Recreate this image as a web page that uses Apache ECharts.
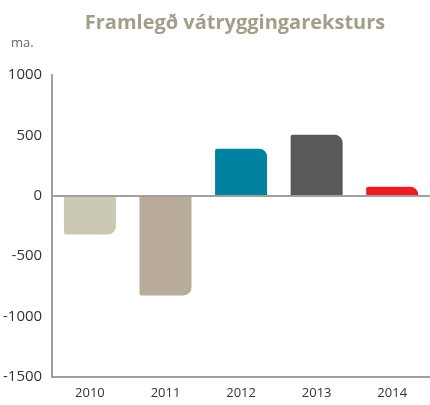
<!DOCTYPE html>
<html>
<head>
<meta charset="utf-8">
<script src="https://cdn.jsdelivr.net/npm/echarts@6/dist/echarts.min.js"></script>
<style>
  html, body { margin: 0; padding: 0; background: #fff; }
  #chart { width: 430px; height: 405px; }
</style>
</head>
<body>
<div id="chart"></div>
<script>
// Gögn
var years = ["2010", "2011", "2012", "2013", "2014"];
var values = [-320, -825, 390, 505, 75];
var barColors = ["#CBC9B3", "#B8AB9A", "#0082A0", "#58595B", "#ED1C24"];
var yTicks = [-1500, -1000, -500, 0, 500, 1000];

var chart = echarts.init(document.getElementById("chart"));

var barData = values.map(function (v, i) {
  return {
    value: v,
    itemStyle: {
      color: barColors[i],
      // hornin rúnuð á endanum sem snýr frá núlli
      borderRadius: v >= 0 ? [2, 8, 0, 0] : [0, 0, 8, 2],
    },
  };
});

var option = {
  animation: false,
  title: {
    text: "Framlegð vátryggingareksturs",
    left: 230,
    textAlign: "center",
    top: 8,
    textStyle: {
      fontFamily: "Open Sans",
      fontWeight: "bold",
      fontSize: 20,
      color: "#A29E88",
    },
  },
  graphic: [
    {
      type: "text",
      left: 11,
      top: 37,
      style: {
        text: "ma.",
        font: "13px 'Open Sans'",
        fill: "#666",
      },
    },
  ],
  grid: {
    left: 52,
    right: 0,
    top: 75,
    bottom: 28,
    containLabel: false,
  },
  xAxis: {
    type: "category",
    data: years,
    axisLine: { onZero: false, lineStyle: { color: "#A0A0A0", width: 2 } },
    axisTick: { show: false },
    axisLabel: {
      fontFamily: "Open Sans",
      fontSize: 13,
      color: "#333",
      margin: 10,
    },
  },
  yAxis: {
    type: "value",
    min: yTicks[0],
    max: yTicks[yTicks.length - 1],
    interval: 500,
    axisLine: { show: true, lineStyle: { color: "#A0A0A0", width: 2 } },
    axisTick: { show: false },
    splitLine: { show: false },
    axisLabel: {
      fontFamily: "Open Sans",
      fontSize: 15,
      color: "#333",
      margin: 10,
      formatter: function (v) {
        return String(v);
      },
    },
  },
  series: [
    {
      type: "bar",
      data: barData,
      barWidth: 52,
      markLine: {
        silent: true,
        symbol: "none",
        label: { show: false },
        lineStyle: { color: "#A0A0A0", width: 2, type: "solid" },
        data: [{ yAxis: 0 }],
      },
    },
  ],
};

chart.setOption(option);
</script>
</body>
</html>
